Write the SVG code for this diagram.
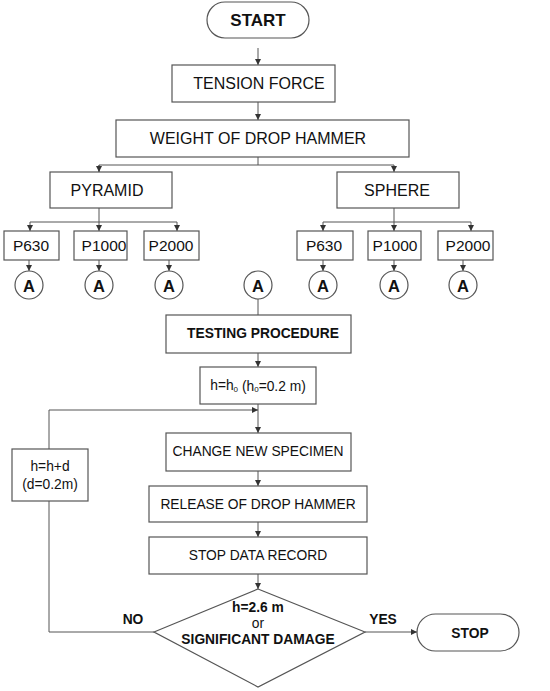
<svg xmlns="http://www.w3.org/2000/svg" width="550" height="691" viewBox="0 0 550 691">
<style>
.box{fill:#fff;stroke:#555;stroke-width:1.2}
.ln{fill:none;stroke:#555;stroke-width:1}
text{font-family:"Liberation Sans",Arial,sans-serif;fill:#111;text-anchor:middle;dominant-baseline:central}
.t16{font-size:16px}
.t15{font-size:15.5px}
.t13{font-size:13.8px}
.ta{font-size:16.5px;font-weight:bold}
.b{font-weight:bold}
</style>
<defs>
<marker id="ah" viewBox="0 0 6 6" refX="6" refY="3" markerWidth="6" markerHeight="6" markerUnits="userSpaceOnUse" orient="auto">
<path d="M0,0 L6,3 L0,6 z" fill="#333"/>
</marker>
</defs>
<rect width="550" height="691" fill="#fff"/>
<g id="connectors">
<line class="ln" x1="258" y1="48" x2="258" y2="65" marker-end="url(#ah)"/>
<line class="ln" x1="258" y1="102" x2="258" y2="120" marker-end="url(#ah)"/>
<polyline class="ln" points="258,157 258,165"/>
<polyline class="ln" points="99,172 99,165 394,165 394,172" marker-end="url(#ah)"/>
<line class="ln" x1="99" y1="165" x2="99" y2="172" marker-end="url(#ah)"/>
<line class="ln" x1="99" y1="208" x2="99" y2="222"/>
<line class="ln" x1="30" y1="222" x2="177" y2="222"/>
<line class="ln" x1="30" y1="222" x2="30" y2="231" marker-end="url(#ah)"/>
<line class="ln" x1="99" y1="222" x2="99" y2="231" marker-end="url(#ah)"/>
<line class="ln" x1="177" y1="222" x2="177" y2="231" marker-end="url(#ah)"/>
<line class="ln" x1="394" y1="208" x2="394" y2="222"/>
<line class="ln" x1="323" y1="222" x2="471" y2="222"/>
<line class="ln" x1="323" y1="222" x2="323" y2="231" marker-end="url(#ah)"/>
<line class="ln" x1="394" y1="222" x2="394" y2="231" marker-end="url(#ah)"/>
<line class="ln" x1="471" y1="222" x2="471" y2="231" marker-end="url(#ah)"/>
<line class="ln" x1="29" y1="260" x2="29" y2="271" marker-end="url(#ah)"/>
<line class="ln" x1="99" y1="260" x2="99" y2="271" marker-end="url(#ah)"/>
<line class="ln" x1="169" y1="260" x2="169" y2="271" marker-end="url(#ah)"/>
<line class="ln" x1="323" y1="260" x2="323" y2="271" marker-end="url(#ah)"/>
<line class="ln" x1="394" y1="260" x2="394" y2="271" marker-end="url(#ah)"/>
<line class="ln" x1="463" y1="260" x2="463" y2="271" marker-end="url(#ah)"/>
<line class="ln" x1="258" y1="299" x2="258" y2="315"/>
<line class="ln" x1="258" y1="353" x2="258" y2="367" marker-end="url(#ah)"/>
<line class="ln" x1="258" y1="404" x2="258" y2="433" marker-end="url(#ah)"/>
<polyline class="ln" points="49,449 49,410 258,410" marker-end="url(#ah)"/>
<line class="ln" x1="258" y1="471" x2="258" y2="486" marker-end="url(#ah)"/>
<line class="ln" x1="258" y1="522" x2="258" y2="537" marker-end="url(#ah)"/>
<line class="ln" x1="258" y1="574" x2="258" y2="589" marker-end="url(#ah)"/>
<polyline class="ln" points="154,632 49,632 49,501"/>
<line class="ln" x1="365" y1="632" x2="417" y2="632" marker-end="url(#ah)"/>
</g>
<g id="start"><rect class="box" x="207" y="2" width="102" height="36" rx="18"/><text class="b" x="258" y="20.5" style="font-size:17px">START</text></g>
<g id="tension"><rect class="box" x="172" y="65" width="163" height="37"/><text class="t16" x="259" y="83.5">TENSION FORCE</text></g>
<g id="weight"><rect class="box" x="116" y="120" width="293" height="37"/><text class="t16" x="258" y="138.5">WEIGHT OF DROP HAMMER</text></g>
<g id="pyramid"><rect class="box" x="50" y="172" width="122" height="36"/><text class="t16" x="107" y="190">PYRAMID</text></g>
<g id="sphere"><rect class="box" x="337" y="172" width="122" height="36"/><text class="t16" x="397" y="190">SPHERE</text></g>
<g id="py-p630"><rect class="box" x="4" y="231" width="55" height="29"/><text class="t15" x="31" y="245.5">P630</text></g>
<g id="py-p1000"><rect class="box" x="74" y="231" width="53" height="29"/><text class="t15" x="104" y="245.5">P1000</text></g>
<g id="py-p2000"><rect class="box" x="144" y="231" width="55" height="29"/><text class="t15" x="171" y="245.5">P2000</text></g>
<g id="sp-p630"><rect class="box" x="297" y="231" width="56" height="29"/><text class="t15" x="324" y="245.5">P630</text></g>
<g id="sp-p1000"><rect class="box" x="368" y="231" width="53" height="29"/><text class="t15" x="395" y="245.5">P1000</text></g>
<g id="sp-p2000"><rect class="box" x="438" y="231" width="55" height="29"/><text class="t15" x="468" y="245.5">P2000</text></g>
<g id="a1"><circle class="box" cx="29" cy="285" r="14"/><text class="ta" x="29" y="286">A</text></g>
<g id="a2"><circle class="box" cx="99" cy="285" r="14"/><text class="ta" x="99" y="286">A</text></g>
<g id="a3"><circle class="box" cx="169" cy="285" r="14"/><text class="ta" x="169" y="286">A</text></g>
<g id="a4"><circle class="box" cx="258" cy="285" r="14"/><text class="ta" x="258" y="286">A</text></g>
<g id="a5"><circle class="box" cx="323" cy="285" r="14"/><text class="ta" x="323" y="286">A</text></g>
<g id="a6"><circle class="box" cx="394" cy="285" r="14"/><text class="ta" x="394" y="286">A</text></g>
<g id="a7"><circle class="box" cx="463" cy="285" r="14"/><text class="ta" x="463" y="286">A</text></g>
<g id="testing"><rect class="box" x="166" y="315" width="185" height="38"/><text class="b t13" x="263" y="333">TESTING PROCEDURE</text></g>
<g id="hinit"><rect class="box" x="200" y="367" width="116" height="37"/><text class="t13" x="258" y="385.5">h=h<tspan style="font-size:8px" dy="3">0</tspan><tspan dy="-3"> (h</tspan><tspan style="font-size:8px" dy="3">0</tspan><tspan dy="-3">=0.2 m)</tspan></text></g>
<g id="hinc"><rect class="box" x="12" y="449" width="76" height="52"/><text class="t13" x="50" y="466">h=h+d</text><text class="t13" x="50" y="484">(d=0.2m)</text></g>
<g id="change"><rect class="box" x="166" y="433" width="185" height="38"/><text class="t13" x="258" y="451">CHANGE NEW SPECIMEN</text></g>
<g id="release"><rect class="box" x="149" y="486" width="218" height="36"/><text class="t13" x="258" y="504">RELEASE OF DROP HAMMER</text></g>
<g id="stopdata"><rect class="box" x="149" y="537" width="218" height="37"/><text class="t13" x="258" y="555">STOP DATA RECORD</text></g>
<g id="decision"><polygon class="box" points="258,589 365,632 258,687 154,632"/><text class="b t13" x="258" y="607">h=2.6 m</text><text class="t13" x="258" y="623">or</text><text class="b t13" x="258" y="639">SIGNIFICANT DAMAGE</text></g>
<g id="labels"><text class="b t13" x="133" y="619">NO</text><text class="b t13" x="383" y="619">YES</text></g>
<g id="stop"><rect class="box" x="417" y="614" width="102" height="37" rx="18.5"/><text class="b t13" x="470" y="633">STOP</text></g>
</svg>
